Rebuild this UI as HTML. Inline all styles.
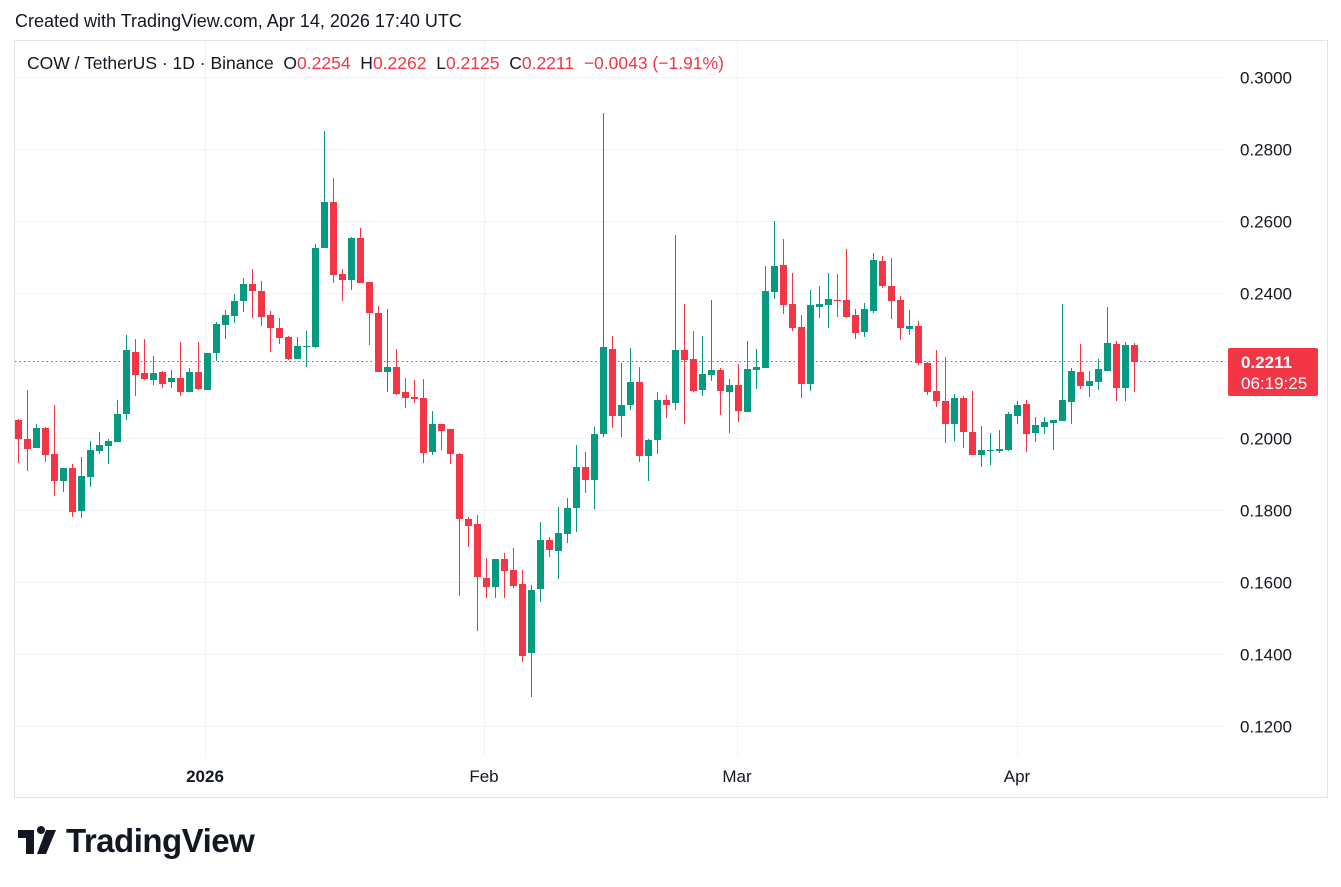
<!DOCTYPE html>
<html><head><meta charset="utf-8"><style>
body{margin:0;background:#fff;font-family:"Liberation Sans",sans-serif;}
#wrap{position:relative;width:1341px;height:887px;overflow:hidden;}
.t{position:absolute;white-space:nowrap;}
</style></head><body><div id="wrap">
<div class="t" style="left:15px;top:11px;font-size:18px;color:#131722;">Created with TradingView.com, Apr 14, 2026 17:40 UTC</div>
<svg id="s" width="1341" height="887" style="position:absolute;left:0;top:0"></svg>
<div class="t" style="left:27px;top:53px;font-size:17.5px;color:#131722;">COW / TetherUS · 1D · Binance&nbsp; O<span style="color:#F23645">0.2254</span>&nbsp; H<span style="color:#F23645">0.2262</span>&nbsp; L<span style="color:#F23645">0.2125</span>&nbsp; C<span style="color:#F23645">0.2211</span>&nbsp; <span style="color:#F23645">−0.0043 (−1.91%)</span></div>
<div class="t" style="left:18px;top:822px;font-size:33px;font-weight:bold;color:#131722;letter-spacing:-0.5px;"><span style="display:inline-block;width:48px"></span>TradingView</div>
</div>
<script>
var d=[
['r',420,439,419,463],['r',439,449,390,471],['g',428,448,424,448],['r',428,455,427,462],['r',454,481,405,496],['g',468,481,468,492],['r',468,512,464,517],['g',476,511,457,518],['g',450,477,441,487],['g',445,451,432,454],
['g',441,446,439,464],['g',414,442,400,442],['g',350,414,335,420],['r',352,375,339,396],['r',373,379,339,380],['g',373,380,356,385],['r',372,384,371,388],['g',378,382,370,388],['r',378,392,342,396],['g',372,392,368,392],
['r',372,389,342,390],['g',353,390,353,390],['g',324,353,322,361],['g',315,325,310,339],['g',301,316,294,323],['g',284,301,278,312],['r',284,291,269,318],['r',291,317,281,326],['r',315,328,311,352],['r',328,338,318,344],
['r',337,359,336,360],['g',346,359,337,359],['g',346,347,331,367],['g',248,347,244,348],['g',202,248,131,248],['r',202,275,178,283],['r',274,280,269,301],['g',238,280,237,290],['r',238,283,228,283],['r',282,313,282,345],
['r',313,372,306,372],['g',367,372,309,392],['r',367,394,349,395],['r',392,398,378,408],['r',397,399,380,403],['r',398,453,379,463],['g',424,452,411,455],['r',424,431,424,450],['r',429,454,429,464],['r',454,519,453,596],
['r',519,526,517,547],['r',524,577,515,631],['r',578,587,558,598],['g',559,587,559,598],['r',559,571,553,598],['r',570,586,548,588],['r',584,656,570,662],['g',590,653,585,697],['g',540,589,522,602],['r',540,550,537,557],
['g',533,551,507,579],['g',508,534,498,543],['g',467,508,445,532],['r',467,480,452,493],['g',434,480,427,509],['g',347,434,113,437],['r',349,416,336,428],['g',405,416,363,437],['g',382,405,348,410],['r',382,456,367,462],
['g',440,456,439,481],['g',400,440,392,454],['r',400,405,395,418],['g',350,403,235,410],['r',350,360,304,424],['r',359,391,331,392],['g',374,390,336,396],['g',370,375,300,381],['r',370,391,368,415],['g',385,392,379,433],
['r',385,411,364,422],['g',369,412,341,412],['g',367,370,349,389],['g',291,368,266,368],['g',266,292,221,299],['r',265,305,239,314],['r',304,328,273,331],['r',327,384,315,398],['g',305,384,290,391],['g',304,307,286,318],
['g',299,305,273,328],['r',300,301,274,317],['r',300,317,249,318],['r',315,333,309,339],['g',309,332,303,337],['g',260,311,253,313],['r',261,286,256,288],['r',286,301,258,319],['r',300,328,296,340],['g',326,329,310,335],
['r',326,363,321,365],['r',363,392,362,395],['r',391,401,350,407],['r',401,424,357,443],['g',398,424,394,441],['r',398,432,396,448],['r',432,455,391,455],['g',450,455,426,467],['g',450,451,433,465],['g',449,451,430,453],
['g',414,450,412,451],['g',405,416,401,424],['r',404,434,400,452],['g',425,433,417,442],['g',422,427,417,434],['g',420,423,420,450],['g',400,421,304,421],['g',371,402,368,424],['r',372,386,344,389],['g',381,386,371,397],
['g',369,382,359,390],['g',343,371,307,371],['r',344,388,341,401],['g',345,388,342,401],['r',345,362,343,392]];
var h='';
h+='<rect x="14.5" y="40.5" width="1313" height="757" fill="none" stroke="#e0e3eb"/>';
for(var p=0.12;p<=0.3001;p+=0.02){var y=Math.round(77+(0.3-p)/0.02*72.1)+0.5;h+='<line x1="15" x2="1226" y1="'+y+'" y2="'+y+'" stroke="#f2f3f5"/>';
h+='<text x="1240" y="'+(y+6).toFixed(1)+'" font-size="17" fill="#131722" font-family="Liberation Sans">'+p.toFixed(4)+'</text>';}
[205,484,737,1017].forEach(function(x){h+='<line x1="'+(x+0.5)+'" x2="'+(x+0.5)+'" y1="41" y2="757" stroke="#f2f3f5"/>';});
[['2026',205,1],['Feb',484,0],['Mar',737,0],['Apr',1017,0]].forEach(function(a){h+='<text x="'+a[1]+'" y="782" text-anchor="middle" font-size="17" fill="#131722" font-family="Liberation Sans"'+(a[2]?' font-weight="bold"':'')+'>'+a[0]+'</text>';});
h+='<line x1="15" x2="1226" y1="361.5" y2="361.5" stroke="#F23645" stroke-dasharray="1.5,3"/>';
d.forEach(function(c,i){var x=18+i*9,col=c[0]=='g'?'#089981':'#F23645';
h+='<rect x="'+x+'" y="'+c[3]+'" width="1" height="'+(c[4]-c[3])+'" fill="'+col+'"/>';
var bh=Math.max(1,c[2]-c[1]);h+='<rect x="'+(x-3)+'" y="'+c[1]+'" width="7" height="'+bh+'" fill="'+col+'"/>';});
h+='<rect x="1228" y="348" width="90" height="48" rx="2" fill="#F23645"/>';
h+='<text x="1241" y="368" font-size="17" fill="#fff" font-weight="bold" font-family="Liberation Sans">0.2211</text>';
h+='<text x="1241" y="389" font-size="17" fill="#fff" font-family="Liberation Sans">06:19:25</text>';
h+='<path d="M18 830h16v24h-8v-16h-8z M37 830a4 4 0 1 1 0 .1z M46 830h10l-10 24h-9z" fill="#131722"/>';
document.getElementById('s').innerHTML=h;
</script></body></html>
